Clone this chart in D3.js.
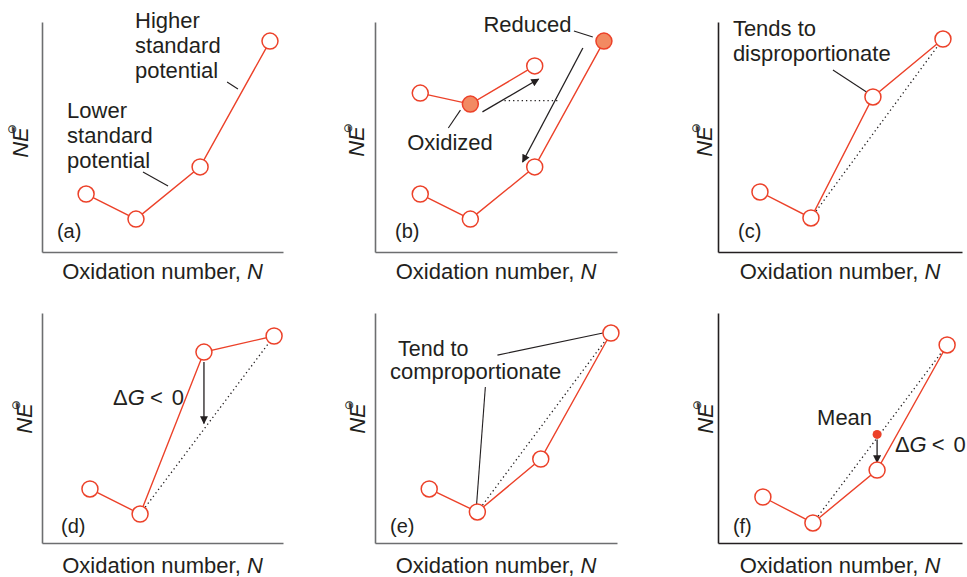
<!DOCTYPE html>
<html>
<head>
<meta charset="utf-8">
<script src="https://cdn.jsdelivr.net/npm/d3@7"></script>
<style>
  html, body { margin: 0; padding: 0; background: #fff; }
  svg { display: block; }
  text { font-family: "Liberation Sans", Arial, Helvetica, sans-serif; fill: #231f20; }
</style>
</head>
<body>
<svg id="chart" width="967" height="577"></svg>
<script>
// ---------------- DATA (abstract units: N on 0..10, NE° on 0..10) ----------------
const panelIds = ["a", "b", "c", "d", "e", "f"];
const xTitle = "Oxidation number, ";
const xTitleVar = "N";

// Frost-diagram points per panel: [N, NE°]
const pointsA = [[1.83, 2.52], [3.90, 1.43], [6.56, 3.70], [9.46, 9.17]];
const pointsB = [[1.87, 2.52], [3.94, 1.43], [6.60, 3.70], [9.46, 9.17]];
const pointsBUpper = [[1.87, 6.91], [3.94, 6.43], [6.60, 8.09]];
const filledB = [[9.46, 9.17], [3.94, 6.43]];
const pointsC = [[1.72, 2.61], [3.81, 1.48], [6.35, 6.74], [9.22, 9.26]];
const pointsD = [[1.99, 2.35], [4.07, 1.26], [6.72, 8.30], [9.63, 9.00]];
const pointsE = [[2.24, 2.35], [4.23, 1.35], [6.85, 3.65], [9.75, 9.13]];
const pointsF = [[1.84, 2.00], [3.89, 0.87], [6.52, 3.17], [9.39, 8.61]];
const meanF = [[6.52, 4.72]];

// dotted tie-lines [from, to]
const dottedB = [[[5.35, 6.58], [7.55, 6.58]]];
const dottedC = [[[3.81, 1.48], [9.22, 9.26]]];
const dottedD = [[[4.07, 1.26], [9.63, 9.00]]];
const dottedE = [[[4.23, 1.35], [9.75, 9.13]]];
const dottedF = [[[3.89, 0.87], [9.39, 8.61]]];

// arrows [from, to]
const arrowsB = [[[4.44, 6.09], [6.76, 7.52]], [[8.59, 8.87], [6.10, 3.91]]];
const arrowsD = [[[6.72, 7.87], [6.72, 5.20]]];
const arrowsF = [[[6.52, 4.50], [6.52, 3.50]]];

// leader lines [from, to]
const leadersA = [[[4.19, 3.48], [5.23, 2.87]], [[7.68, 7.39], [8.13, 7.09]]];
const leadersB = [[[8.22, 9.61], [9.00, 9.35]], [[3.03, 5.39], [3.53, 6.17]]];
const leadersC = [[[4.71, 7.91], [6.15, 6.91]]];
const leadersE = [[[5.06, 8.17], [9.42, 9.13]], [[4.56, 6.78], [4.19, 1.57]]];

// annotation texts: [N, NE°, lines, fontSize]
const notesA = [[3.86, 9.74, ["Higher", "standard", "potential"], 22], [1.04, 5.83, ["Lower", "standard", "potential"], 22]];
const notesB = [[4.48, 9.57, ["Reduced"], 22], [1.33, 4.43, ["Oxidized"], 22]];
const notesC = [[0.61, 9.39, ["Tends to", "disproportionate"], 22]];
const notesD = [];
const notesE = [[0.95, 8.13, ["Tend to"], 21.5], [0.62, 7.13, ["comproportionate"], 22]];
const notesF = [[4.06, 5.13, ["Mean"], 22]];
const deltaG = { d: [2.95, 6.0], f: [7.25, 3.96] };

const panelData = {
  a: { series: [pointsA], filled: [], dotted: [], arrows: [], leaders: leadersA, notes: notesA },
  b: { series: [pointsB, pointsBUpper], filled: filledB, dotted: dottedB, arrows: arrowsB, leaders: leadersB, notes: notesB },
  c: { series: [pointsC], filled: [], dotted: dottedC, arrows: [], leaders: leadersC, notes: notesC },
  d: { series: [pointsD], filled: [], dotted: dottedD, arrows: arrowsD, leaders: [], notes: notesD },
  e: { series: [pointsE], filled: [], dotted: dottedE, arrows: [], leaders: leadersE, notes: notesE },
  f: { series: [pointsF], filled: [], dotted: dottedF, arrows: arrowsF, leaders: [], notes: notesF, mean: meanF }
};

// ---------------- LAYOUT ----------------
const layout = {
  a: { left: 42,  width: 241, bottom: 252, ylx: 28,  yly: 141, axis: "#6d6e70", tag: [0.62, 0.61], xtY: 279 },
  b: { left: 375, width: 242, bottom: 252, ylx: 364, yly: 140, axis: "#6d6e70", tag: [0.83, 0.61], xtY: 279 },
  c: { left: 718, width: 244, bottom: 252, ylx: 712, yly: 140, axis: "#231f20", tag: [0.82, 0.61], xtY: 279 },
  d: { left: 42,  width: 241, bottom: 543, ylx: 32,  yly: 417, axis: "#6d6e70", tag: [0.79, 0.43], xtY: 573 },
  e: { left: 375, width: 242, bottom: 543, ylx: 365, yly: 417, axis: "#6d6e70", tag: [0.62, 0.43], xtY: 573 },
  f: { left: 718, width: 244, bottom: 543, ylx: 713, yly: 417, axis: "#231f20", tag: [0.61, 0.43], xtY: 573 }
};
const plotH = 230;
const RED = "#ec4129";
const FILL = "#f28a62";
const R = 8;

const svg = d3.select("#chart");

const defs = svg.append("defs");
defs.append("marker")
  .attr("id", "arrow")
  .attr("viewBox", "0 0 10 10")
  .attr("refX", 9).attr("refY", 5)
  .attr("markerWidth", 11).attr("markerHeight", 8)
  .attr("markerUnits", "userSpaceOnUse")
  .attr("orient", "auto")
  .append("path").attr("d", "M0,0 L10,5 L0,10 z").attr("fill", "#231f20");

panelIds.forEach(id => {
  const L = layout[id];
  const D = panelData[id];
  const x = d3.scaleLinear().domain([0, 10]).range([L.left, L.left + L.width]);
  const y = d3.scaleLinear().domain([0, 10]).range([L.bottom, L.bottom - plotH]);
  const g = svg.append("g").attr("class", "panel-" + id);

  // axes (no ticks)
  const ax = g.append("g").attr("transform", `translate(0,${L.bottom})`)
    .call(d3.axisBottom(x).ticks(0).tickSize(0).tickSizeOuter(0).tickFormat(""));
  const ay = g.append("g").attr("transform", `translate(${L.left},0)`)
    .call(d3.axisLeft(y).ticks(0).tickSize(0).tickSizeOuter(0).tickFormat(""));
  [ax, ay].forEach(a => a.select(".domain").attr("stroke", L.axis).attr("stroke-width", 1.6));

  // axis titles
  const xt = g.append("text")
    .attr("x", (L.left + L.left + L.width) / 2).attr("y", L.xtY)
    .attr("text-anchor", "middle").attr("font-size", 22);
  xt.append("tspan").text(xTitle);
  xt.append("tspan").attr("font-style", "italic").text(xTitleVar);

  const yt = g.append("text")
    .attr("transform", `translate(${L.ylx},${L.yly}) rotate(-90)`)
    .attr("text-anchor", "middle").attr("font-size", 22).attr("font-style", "italic");
  yt.append("tspan").text("NE");
  yt.append("tspan").attr("font-style", "normal").attr("font-size", 12)
    .attr("font-family", "DejaVu Sans").attr("dx", -7).attr("dy", -12).text("⊖");

  // panel tag
  g.append("text").attr("x", x(L.tag[0])).attr("y", y(L.tag[1]))
    .attr("font-size", 20).text(`(${id})`);

  const line = d3.line().x(d => x(d[0])).y(d => y(d[1]));

  // dotted tie lines
  g.selectAll(".dot").data(D.dotted).join("path")
    .attr("d", d => line(d)).attr("fill", "none")
    .attr("stroke", "#231f20").attr("stroke-width", 1.3).attr("stroke-dasharray", "1.3,3");

  // red series lines
  g.selectAll(".ser").data(D.series).join("path")
    .attr("d", d => line(d)).attr("fill", "none")
    .attr("stroke", RED).attr("stroke-width", 1.4);

  // leader lines
  g.selectAll(".lead").data(D.leaders).join("path")
    .attr("d", d => line(d)).attr("fill", "none")
    .attr("stroke", "#231f20").attr("stroke-width", 1.1);

  // arrows
  g.selectAll(".arr").data(D.arrows).join("path")
    .attr("d", d => line(d)).attr("fill", "none")
    .attr("stroke", "#231f20").attr("stroke-width", 1.3)
    .attr("marker-end", "url(#arrow)");

  // circles
  const allPts = D.series.flat();
  const isFilled = p => D.filled.some(f => f[0] === p[0] && f[1] === p[1]);
  g.selectAll(".pt").data(allPts).join("circle")
    .attr("cx", d => x(d[0])).attr("cy", d => y(d[1])).attr("r", R)
    .attr("fill", d => isFilled(d) ? FILL : "#fff")
    .attr("stroke", RED).attr("stroke-width", 1.5);

  if (D.mean) {
    g.selectAll(".mean").data(D.mean).join("circle")
      .attr("cx", d => x(d[0])).attr("cy", d => y(d[1])).attr("r", 4.5)
      .attr("fill", RED);
  }

  // annotation text
  D.notes.forEach(n => {
    const t = g.append("text").attr("x", x(n[0])).attr("y", y(n[1])).attr("font-size", n[3]);
    n[2].forEach((s, i) => t.append("tspan").attr("x", x(n[0])).attr("dy", i === 0 ? 0 : 25).text(s));
  });

  if (deltaG[id]) {
    const p = deltaG[id];
    const t = g.append("text").attr("x", x(p[0])).attr("y", y(p[1])).attr("font-size", 22);
    t.append("tspan").text("Δ");
    t.append("tspan").attr("font-style", "italic").text("G");
    t.append("tspan").attr("dx", 5).text("<");
    t.append("tspan").attr("dx", 9).text("0");
  }
});
</script>
</body>
</html>
